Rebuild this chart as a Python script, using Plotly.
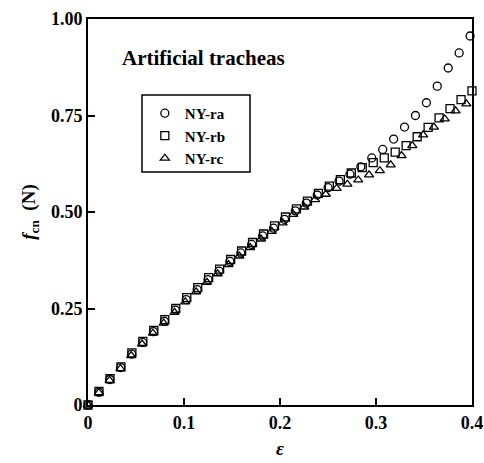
import plotly.graph_objects as go

# NY-ra (circles)
ra_x = [0, 0.0114, 0.0227, 0.0341, 0.0455, 0.0569, 0.0682, 0.0796, 0.091, 0.1023,
        0.1137, 0.125, 0.1364, 0.1478, 0.1592, 0.1705, 0.1819, 0.1933, 0.2047, 0.216,
        0.2274, 0.2388, 0.2501, 0.2615, 0.2729, 0.2842, 0.2956, 0.307, 0.3184, 0.3297,
        0.3411, 0.3525, 0.3638, 0.3752, 0.3866, 0.398]
ra_y = [0, 0.033, 0.066, 0.097, 0.132, 0.162, 0.190, 0.217, 0.246, 0.273,
        0.299, 0.325, 0.347, 0.372, 0.394, 0.416, 0.438, 0.458, 0.481, 0.503,
        0.523, 0.544, 0.563, 0.580, 0.598, 0.617, 0.640, 0.662, 0.689, 0.720,
        0.750, 0.783, 0.826, 0.873, 0.912, 0.956]

# NY-rb (squares)
rb_x = [0, 0.0114, 0.0229, 0.0343, 0.0457, 0.0571, 0.0686, 0.08, 0.0914, 0.1029,
        0.1143, 0.1257, 0.1371, 0.1486, 0.16, 0.1714, 0.1829, 0.1943, 0.2057, 0.2171,
        0.2286, 0.24, 0.2514, 0.2629, 0.2743, 0.2857, 0.2971, 0.3086, 0.32, 0.3314,
        0.3429, 0.3543, 0.3657, 0.3771, 0.3886, 0.4]
rb_y = [0, 0.035, 0.068, 0.099, 0.135, 0.165, 0.193, 0.221, 0.250, 0.278,
        0.304, 0.330, 0.352, 0.377, 0.399, 0.421, 0.443, 0.464, 0.487, 0.508,
        0.528, 0.548, 0.567, 0.584, 0.601, 0.615, 0.628, 0.640, 0.655, 0.672,
        0.695, 0.719, 0.744, 0.768, 0.791, 0.814]

# NY-rc (triangles)
rc_x = [0, 0.0113, 0.0225, 0.0338, 0.045, 0.0563, 0.0676, 0.0788, 0.0901, 0.1013,
        0.1126, 0.1239, 0.1351, 0.1464, 0.1576, 0.1689, 0.1802, 0.1914, 0.2027, 0.2139,
        0.2252, 0.2365, 0.2477, 0.259, 0.2702, 0.2815, 0.2928, 0.304, 0.3153, 0.3266,
        0.3378, 0.3491, 0.3603, 0.3716, 0.3829, 0.3941]
rc_y = [0, 0.032, 0.064, 0.094, 0.128, 0.158, 0.186, 0.212, 0.240, 0.267,
        0.293, 0.318, 0.340, 0.364, 0.386, 0.408, 0.430, 0.450, 0.472, 0.494,
        0.513, 0.532, 0.546, 0.561, 0.572, 0.583, 0.596, 0.607, 0.622, 0.646,
        0.672, 0.700, 0.720, 0.741, 0.762, 0.780]

x_ticks = [0, 0.1, 0.2, 0.3, 0.4]
x_ticktext = ["0", "0.1", "0.2", "0.3", "0.4"]
y_ticks = [0, 0.25, 0.5, 0.75, 1.0]
y_ticktext = ["0", "0.25", "0.50", "0.75", "1.00"]

FONT = "Liberation Serif"

fig = go.Figure()
series = [
    ("NY-ra", ra_x, ra_y, "circle-open", 8),
    ("NY-rb", rb_x, rb_y, "square-open", 8),
    ("NY-rc", rc_x, rc_y, "triangle-up-open", 8),
]
for name, xs, ys, sym, sz in series:
    fig.add_trace(go.Scatter(
        x=xs, y=ys, mode="markers", name=name, cliponaxis=False,
        marker=dict(symbol=sym, size=sz, color="black", line=dict(color="black", width=1.3)),
    ))

axis_common = dict(
    showline=True, linecolor="black", linewidth=2, mirror=True,
    ticks="inside", ticklen=7, tickwidth=2, tickcolor="black",
    showgrid=False, zeroline=False, automargin=False,
    tickfont=dict(family=FONT, size=18, color="black", weight="bold"),
)

fig.update_layout(
    width=484, height=463,
    margin=dict(l=88, r=12, t=19, b=58),
    paper_bgcolor="white", plot_bgcolor="white",
    font=dict(family=FONT, color="black"),
    xaxis=dict(range=[0, 0.4], tickvals=x_ticks, ticktext=x_ticktext,
               title=dict(text="<b><i>ε</i></b>", font=dict(family=FONT, size=19), standoff=10),
               **axis_common),
    yaxis=dict(range=[0, 1.0], tickvals=y_ticks, ticktext=y_ticktext,
               title=dict(text="<i>f</i><sub>cn</sub>  (N)", font=dict(family=FONT, size=19, weight="bold"), standoff=10),
               **axis_common),
    legend=dict(x=0.148, y=0.798, xanchor="left", yanchor="top",
                borderwidth=0, bgcolor="rgba(0,0,0,0)",
                font=dict(family=FONT, size=15, color="black", weight="bold"),
                itemsizing="trace", tracegroupgap=0),
    showlegend=True,
    shapes=[dict(type="rect", xref="paper", yref="paper",
                 x0=0.1406, x1=0.4219, y0=0.6036, y1=0.803,
                 line=dict(color="black", width=1.5), fillcolor="rgba(0,0,0,0)", layer="below")],
    annotations=[dict(text="<b>Artificial tracheas</b>", x=0.083, y=0.9, xref="paper", yref="paper",
                      xanchor="left", yanchor="middle", showarrow=False,
                      font=dict(family=FONT, size=21, color="black"))],
)

fig.write_html("out.html", config={"displayModeBar": False},
               post_script="document.body.style.margin='0';document.body.style.overflow='hidden';")
